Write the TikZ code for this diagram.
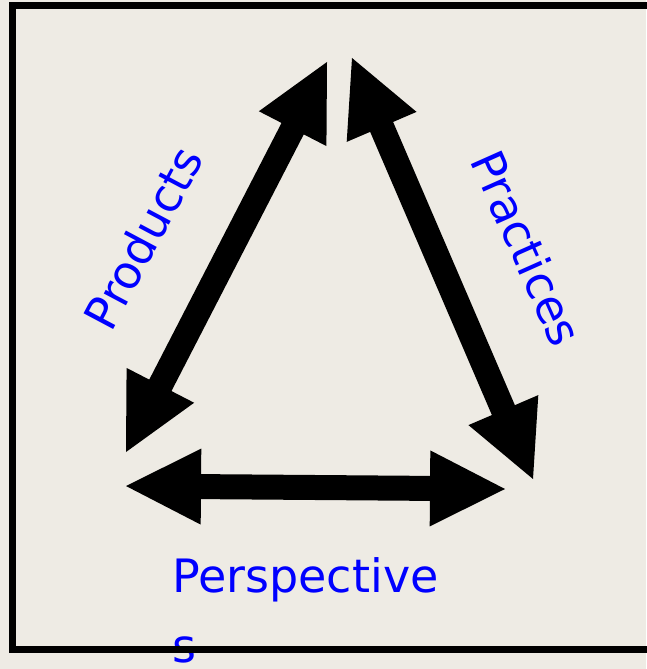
\documentclass[tikz,border=0pt]{standalone}
\usepackage{fontspec}
\setmainfont{DejaVu Sans}
\usetikzlibrary{calc}
\definecolor{bgbeige}{RGB}{238,235,228}
\definecolor{labelblue}{RGB}{0,0,255}
\newcommand{\fatdblarrow}[2]{%
  \fill[arrowfill]
    (#1) -- ($($(#1)!75pt!(#2)$)!38pt!90:(#2)$)
         -- ($($(#1)!75pt!(#2)$)!12.5pt!90:(#2)$)
         -- ($($(#2)!75pt!(#1)$)!12.5pt!-90:(#1)$)
         -- ($($(#2)!75pt!(#1)$)!38pt!-90:(#1)$)
         -- (#2)
         -- ($($(#2)!75pt!(#1)$)!38pt!90:(#1)$)
         -- ($($(#2)!75pt!(#1)$)!12.5pt!90:(#1)$)
         -- ($($(#1)!75pt!(#2)$)!12.5pt!-90:(#2)$)
         -- ($($(#1)!75pt!(#2)$)!38pt!-90:(#2)$)
         -- cycle;}
\begin{document}
\begin{tikzpicture}[x=1pt,y=-1pt,
  arrowfill/.style={fill=black},
  label/.style={text=labelblue,font=\fontsize{46}{70}\selectfont,inner sep=0pt}]
\useasboundingbox (0,0) rectangle (646,669);
\fill[bgbeige] (0,0) rectangle (646,669);
% arrow end points
\coordinate (prodTop) at (327,62);
\coordinate (prodBot) at (126,452);
\coordinate (pracTop) at (352,58);
\coordinate (pracBot) at (533,479);
\coordinate (perLeft) at (126,486);
\coordinate (perRight) at (505,489);
\fatdblarrow{prodBot}{prodTop}
\fatdblarrow{pracTop}{pracBot}
\fatdblarrow{perLeft}{perRight}
% labels
\node[label,rotate=62] (products) at (143,238) {Products};
\node[label,rotate=-66] (practices) at (527,248) {Practices};
\node[label,anchor=base west,align=left] (perspectives) at (172,662) {Perspective\\s};
% frame on top
\draw[line width=7pt] (12.5,5.5) rectangle (720,649.5);
\end{tikzpicture}
\end{document}
